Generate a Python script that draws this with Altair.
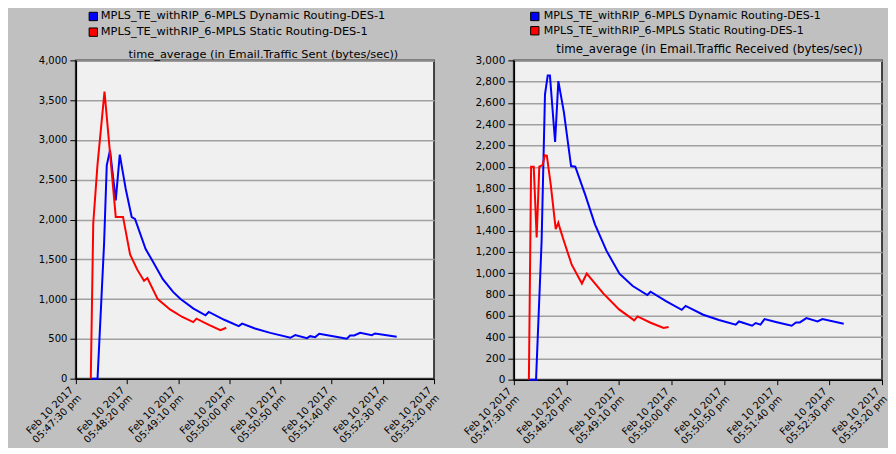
import altair as alt
import pandas as pd

# ---------------- data ----------------
SERIES = ["MPLS_TE_withRIP_6-MPLS Dynamic Routing-DES-1",
          "MPLS_TE_withRIP_6-MPLS Static Routing-DES-1"]
COLORS = ["#0000ff", "#ff0000"]

TITLES = ["time_average (in Email.Traffic Sent (bytes/sec))",
          "time_average (in Email.Traffic Received (bytes/sec))"]

# x: seconds after Feb 10 2017 05:47:30 pm
TICK_SECONDS = [0, 50, 100, 150, 200, 250, 300, 350]
TICK_DATE = "Feb 10 2017"
TICK_TIMES = ["05:47:30 pm", "05:48:20 pm", "05:49:10 pm", "05:50:00 pm",
              "05:50:50 pm", "05:51:40 pm", "05:52:30 pm", "05:53:20 pm"]

# Email Traffic Sent
SENT_DYN_T = [14.6, 21.2, 27.6, 30.2, 33.4, 39.0, 42.9, 48.7, 54.6, 57.8, 68.2, 74.0,
              85.0, 95.0, 102.3, 115.0, 126.7, 129.9, 145.0, 159.2, 162.5, 175.0,
              190.0, 209.6, 214.4, 225.8, 229.0, 233.9, 237.8, 250.0, 264.8, 268.0,
              272.0, 277.8, 289.2, 292.4, 313.5]
SENT_DYN_V = [0, 0, 1700, 2680, 2870, 2240, 2816, 2387, 2030, 2008, 1629, 1500,
              1250, 1090, 1000, 880, 796, 838, 740, 661, 691, 630,
              575, 514, 547, 509, 534, 522, 564, 535, 501, 543,
              543, 577, 547, 568, 526]
SENT_STA_T = [14.6, 17.0, 21.1, 28.0, 39.0, 46.1, 53.0, 60.0, 66.6, 69.9, 80.0,
              92.0, 104.0, 114.7, 117.9, 130.0, 141.3, 147.0]
SENT_STA_V = [0, 1950, 2681, 3607.466667, 2033, 2033, 1560, 1370, 1229, 1263, 1000,
              870, 775, 711, 754, 675, 610, 640]

# Email Traffic Received
RECV_DYN_T = [14.3, 21.1, 26.4, 29.6, 32.2, 34.3, 39.2, 42.3, 47.6, 54.4, 58.4, 67.8,
              77.1, 88.0, 100.4, 113.0, 126.9, 130.0, 145.0, 159.6, 163.3, 180.0,
              195.0, 210.9, 214.0, 226.5, 229.9, 234.5, 238.3, 250.0, 264.1, 268.2,
              271.9, 278.1, 288.7, 293.4, 313.6]
RECV_DYN_V = [0, 0, 1305, 2681, 2857, 2857, 2233, 2805, 2511, 2007, 2001, 1738,
              1460, 1212, 996, 880, 795, 826, 735, 656, 693, 610,
              560, 517, 547, 507, 532, 517, 569, 540, 507, 538,
              538, 578, 547, 569, 526]
RECV_STA_T = [14.3, 16.4, 18.9, 21.7, 24.2, 27.3, 29.5, 31.4, 35.1, 39.8, 42.3, 44.0,
              47.5, 55.0, 64.7, 69.3, 85.0, 100.0, 114.4, 117.6, 130.0, 142.4, 147.1]
RECV_STA_V = [0, 2001, 2001, 1336, 2001, 2016, 2109, 2103, 1831, 1414, 1475, 1414,
              1305, 1080, 903, 996, 811, 660, 557, 594, 535, 486, 495]

FONT = "DejaVu Sans"


def frame(t_dyn, v_dyn, t_sta, v_sta):
    a = pd.DataFrame({"t": t_dyn, "v": v_dyn, "series": SERIES[0]})
    b = pd.DataFrame({"t": t_sta, "v": v_sta, "series": SERIES[1]})
    return pd.concat([a, b], ignore_index=True)


LABEL_ARRAY = "[" + ",".join(
    "['%s','%s']" % (TICK_DATE, s) for s in TICK_TIMES) + "]"
LABEL_EXPR = LABEL_ARRAY + "[round(datum.value/50)]"


def panel(df, title, ymax, ystep, w, h, fs, title_xy, leg_x, leg_dx, leg_y, pitch):
    x = alt.X("t:Q",
              scale=alt.Scale(domain=[0, 350], nice=False, zero=False),
              axis=alt.Axis(values=TICK_SECONDS, labelExpr=LABEL_EXPR,
                            labelAngle=-45, labelAlign="right", labelBaseline="top",
                            labelOffset=-8, labelPadding=1, labelLineHeight=11,
                            labelFontSize=fs["x"], title=None, grid=False, tickSize=5,
                            labelOverlap=False, labelFlush=False))
    y = alt.Y("v:Q",
              scale=alt.Scale(domain=[0, ymax], nice=False),
              axis=alt.Axis(values=list(range(0, ymax + 1, ystep)), format=",d",
                            title=None, grid=True, tickSize=6, labelPadding=3,
                            labelFontSize=fs["y"]))
    lines = alt.Chart(df).mark_line(strokeWidth=2).encode(
        x=x, y=y,
        color=alt.Color("series:N", scale=alt.Scale(domain=SERIES, range=COLORS),
                        legend=None))
    layers = [lines]
    for i, (name, col) in enumerate(zip(SERIES, COLORS)):
        ld = pd.DataFrame({"label": [name]})
        layers.append(alt.Chart(ld).mark_square(size=70, fill=col, stroke="black",
                                                strokeWidth=1, opacity=1).encode(
            x=alt.value(leg_x), y=alt.value(leg_y + i * pitch)))
        layers.append(alt.Chart(ld).mark_text(align="left", baseline="middle",
                                              font=FONT, fontSize=fs["leg"],
                                              color="black").encode(
            x=alt.value(leg_x + leg_dx), y=alt.value(leg_y + i * pitch),
            text="label:N"))
    td = pd.DataFrame({"label": [title]})
    layers.append(alt.Chart(td).mark_text(align="center", baseline="middle",
                                          font=FONT, fontSize=fs["title"],
                                          color="black").encode(
        x=alt.value(title_xy[0]), y=alt.value(title_xy[1]), text="label:N"))
    return alt.layer(*layers).properties(width=w, height=h)


left = panel(frame(SENT_DYN_T, SENT_DYN_V, SENT_STA_T, SENT_STA_V), TITLES[0],
             4000, 500, 359, 319,
             {"x": 10, "y": 10, "leg": 11.4, "title": 11.4},
             (188, -5), 17.5, 7.5, -44, 15.7)
right = panel(frame(RECV_DYN_T, RECV_DYN_V, RECV_STA_T, RECV_STA_V), TITLES[1],
              3000, 200, 369, 320,
              {"x": 10, "y": 10.5, "leg": 11.1, "title": 11.8},
              (196, -11), 21, 9, -44, 14.3)

chart = alt.hconcat(left, right, spacing=17).properties(
    background="#c0c0c0",
    padding={"left": 13, "top": 0, "right": -2, "bottom": 0},
).configure_view(
    fill="#f0f0f0", stroke="#404040", strokeWidth=2
).configure_axis(
    labelFont=FONT, labelColor="black", domainColor="black", tickColor="black",
    gridColor="#a0a0a0", gridWidth=1.5, domainWidth=1.5, tickWidth=1
)

chart.save("out.html", embed_options={"renderer": "svg", "actions": False})
